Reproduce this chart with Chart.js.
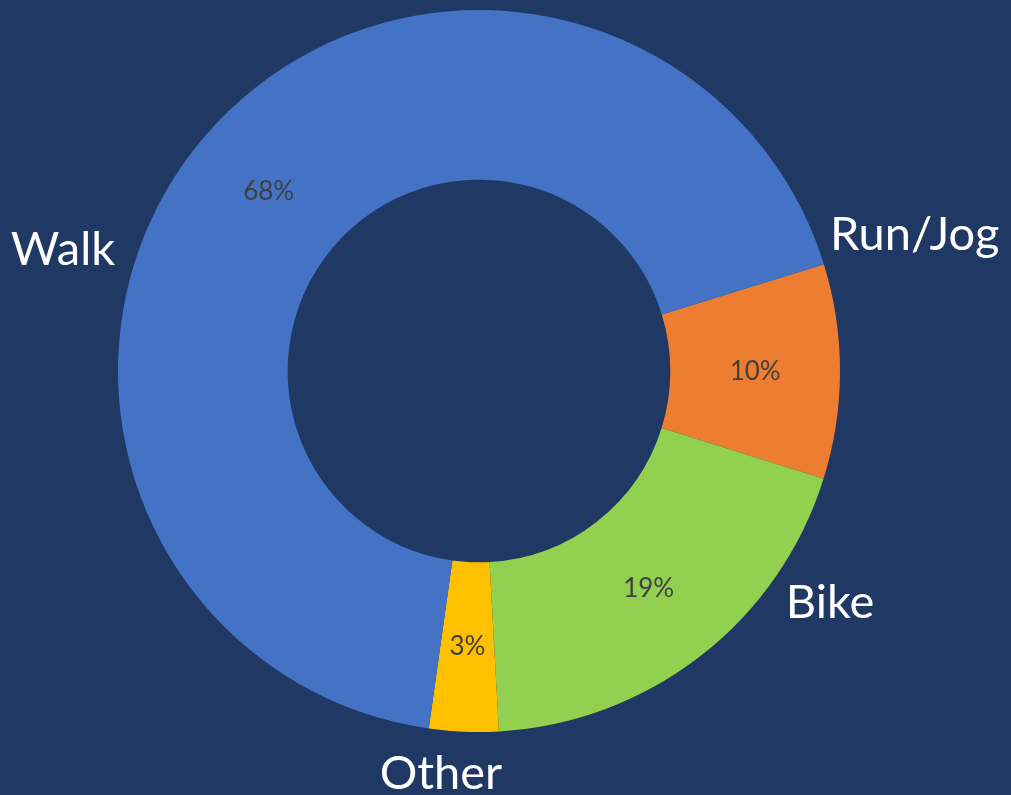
<!DOCTYPE html>
<html>
<head>
<meta charset="utf-8">
<script src="https://cdn.jsdelivr.net/npm/chart.js@4"></script>
<style>
  html, body { margin: 0; padding: 0; background: #203864; }
  #wrap { width: 1011px; height: 795px; }
</style>
</head>
<body>
<div id="wrap"><canvas id="chart"></canvas></div>
<script>
const categories = ['Run/Jog', 'Bike', 'Other', 'Walk'];
const shares = [9.6, 19.3, 3.1, 68.0];
const colors = ['#ED7D31', '#92D050', '#FFC000', '#4472C4'];

// where each category name sits: angle in degrees (0 = right, clockwise), distance as a fraction of outer radius
const namePlacement = [
  { angle: -17.4, dist: 1.265 },
  { angle: 33.4, dist: 1.165 },
  { angle: 95.4, dist: 1.12 },
  { angle: 196.2, dist: 1.2 }
];

const labelPlugin = {
  id: 'sliceLabels',
  afterDatasetsDraw(chart) {
    const ctx = chart.ctx;
    const meta = chart.getDatasetMeta(0);
    ctx.save();
    ctx.textAlign = 'center';
    ctx.textBaseline = 'middle';
    meta.data.forEach((arc, i) => {
      const p = arc.getProps(['x', 'y', 'startAngle', 'endAngle', 'innerRadius', 'outerRadius'], true);
      const mid = (p.startAngle + p.endAngle) / 2;
      const r = (p.innerRadius + p.outerRadius) / 2;
      ctx.fillStyle = '#404040';
      ctx.font = '26px Lato';
      ctx.fillText(Math.round(shares[i]) + '%', p.x + Math.cos(mid) * r, p.y + Math.sin(mid) * r);

      const np = namePlacement[i];
      const a = np.angle * Math.PI / 180;
      ctx.fillStyle = '#FFFFFF';
      ctx.font = '47px Lato';
      ctx.fillText(categories[i], p.x + Math.cos(a) * p.outerRadius * np.dist, p.y + Math.sin(a) * p.outerRadius * np.dist);
    });
    ctx.restore();
  }
};

new Chart(document.getElementById('chart'), {
  type: 'doughnut',
  data: {
    labels: categories,
    datasets: [{
      data: shares,
      backgroundColor: colors,
      borderWidth: 0
    }]
  },
  options: {
    responsive: true,
    maintainAspectRatio: false,
    animation: false,
    rotation: 72.8,
    cutout: '53%',
    layout: { padding: { left: 117, right: 170, top: 10, bottom: 63 } },
    plugins: {
      legend: { display: false },
      tooltip: { enabled: false }
    }
  },
  plugins: [labelPlugin]
});
</script>
</body>
</html>
